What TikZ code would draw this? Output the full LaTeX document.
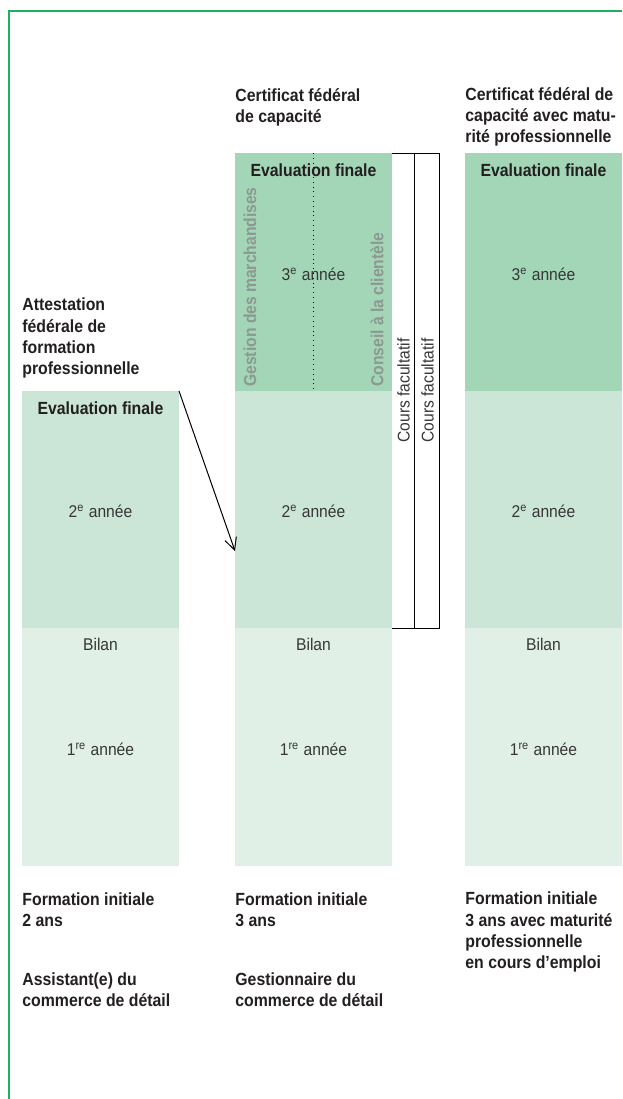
\documentclass[tikz,border=0pt]{standalone}
\usepackage{fontspec}
\setmainfont{Liberation Sans}
\newfontfamily\lightfont[FakeStretch=0.92]{Liberation Sans}
\newfontfamily\headfont[FakeStretch=0.9]{Liberation Sans}
\usetikzlibrary{arrows.meta}
\definecolor{framegreen}{RGB}{29,177,94}
\definecolor{yearthree}{RGB}{163,213,183}
\definecolor{yeartwo}{RGB}{203,230,214}
\definecolor{yearone}{RGB}{224,240,230}
\definecolor{inkdark}{RGB}{35,31,32}
\definecolor{inkgrey}{RGB}{55,55,55}
\definecolor{optgrey}{RGB}{140,152,146}

\begin{document}
\begin{tikzpicture}[x=0.5pt,y=-0.5pt,
    title/.style={font=\headfont\fontsize{8.8}{10.6}\selectfont\bfseries, text=inkdark, align=left, anchor=base west, inner sep=0pt},
    evallabel/.style={font=\headfont\fontsize{8.8}{10.6}\selectfont\bfseries, text=inkdark, inner sep=0pt},
    yearlabel/.style={font=\lightfont\fontsize{8.5}{10.6}\selectfont, text=inkgrey, inner sep=0pt},
    branch/.style={font=\headfont\fontsize{8.7}{10.6}\selectfont\bfseries, text=optgrey, rotate=90, anchor=west, inner sep=0pt},
    optional/.style={yearlabel, rotate=90}]
    \useasboundingbox (0,0) rectangle (622,1099);
    \draw[framegreen, line width=0.65pt] (622,11) -- (9,11) -- (9,1099);
    % colonnes
    \fill[yeartwo] (22,391) rectangle (179,628);
    \fill[yearone] (22,628) rectangle (179,866);
    \foreach \x in {235,465} {
        \fill[yearthree] (\x,153) rectangle +(157,238);
        \fill[yeartwo] (\x,391) rectangle +(157,237);
        \fill[yearone] (\x,628) rectangle +(157,238);
    }
    \draw[dotted, line width=0.4pt] (313,153) -- (313,391);
    % cours facultatifs
    \draw[line width=0.5pt] (392,153) -- (439,153) -- (439,628) -- (392,628);
    \draw[line width=0.5pt] (414,153) -- (414,628);
    \node[optional] (opt1) at (403.5,390.5) {Cours facultatif};
    \node[optional] (opt2) at (427.5,390.5) {Cours facultatif};
    % orientations
    \node[branch] (goods) at (250,387) {Gestion des marchandises};
    \node[branch] (advice) at (377,387) {Conseil à la clientèle};
    % annees
    \node[evallabel] (eval1) at (100.5,408) {Evaluation finale};
    \node[evallabel] (eval2) at (313.5,170) {Evaluation finale};
    \node[evallabel] (eval3) at (543.5,170) {Evaluation finale};
    \node[yearlabel] (third2) at (313.5,274) {3\textsuperscript{e} année};
    \node[yearlabel] (third3) at (543.5,274) {3\textsuperscript{e} année};
    \node[yearlabel] (second1) at (100.5,511) {2\textsuperscript{e} année};
    \node[yearlabel] (second2) at (313.5,511) {2\textsuperscript{e} année};
    \node[yearlabel] (second3) at (543.5,511) {2\textsuperscript{e} année};
    \node[yearlabel] (bilan1) at (100.5,644) {Bilan};
    \node[yearlabel] (bilan2) at (313.5,644) {Bilan};
    \node[yearlabel] (bilan3) at (543.5,644) {Bilan};
    \node[yearlabel] (first1) at (100.5,749) {1\textsuperscript{re} année};
    \node[yearlabel] (first2) at (313.5,749) {1\textsuperscript{re} année};
    \node[yearlabel] (first3) at (543.5,749) {1\textsuperscript{re} année};
    % titres (ancre sur la derniere ligne)
    \node[title] (afp) at (22,374.5) {Attestation\\fédérale de\\formation\\professionnelle};
    \node[title] (cfc) at (235,122.5) {Certificat fédéral\\de capacité};
    \node[title] (cfcmp) at (465,142.5) {Certificat fédéral de\\capacité avec matu-\\rité professionnelle};
    \node[title] (ini2) at (22,926.5) {Formation initiale\\2 ans};
    \node[title] (ini3) at (235,926.5) {Formation initiale\\3 ans};
    \node[title] (inimp) at (465,968.5) {Formation initiale\\3 ans avec maturité\\professionnelle\\en cours d’emploi};
    \node[title] (job2) at (22,1006.5) {Assistant(e) du\\commerce de détail};
    \node[title] (job3) at (235,1006.5) {Gestionnaire du\\commerce de détail};
    % passage AFP -> CFC
    \coordinate (afpcorner) at (179,391);
    \coordinate (cfcside) at (235,551);
    \draw[-{Straight Barb[length=6pt,width=6pt]}, line width=0.5pt] (afpcorner) -- (cfcside);
\end{tikzpicture}
\end{document}
